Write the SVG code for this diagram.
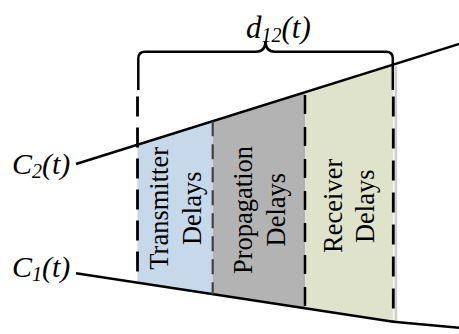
<svg xmlns="http://www.w3.org/2000/svg" width="459" height="334" viewBox="0 0 459 334">
<style>
.lbl{font-family:"Liberation Serif","Times New Roman",serif;font-style:italic;font-size:30px;fill:#000}
.sub{font-size:20px}
.rt{font-family:"Liberation Serif","Times New Roman",serif;font-size:26.5px;fill:#000;text-anchor:middle}
.ln{stroke:#000;stroke-width:2.5;fill:none}
.dash{stroke:#000;stroke-width:2.8;fill:none;stroke-dasharray:20 11}
</style>
<rect width="459" height="334" fill="#fff"/>
<g id="transmitter">
<polygon points="137.5,144.7 212.7,121.2 212.7,294.2 137.5,282.7" fill="#c6d8ea"/>
<text class="rt" transform="translate(167.5,208.3) rotate(-90)">Transmitter</text>
<text class="rt" transform="translate(201,208.3) rotate(-90)">Delays</text>
</g>
<g id="propagation">
<polygon points="212.7,121.2 305,92.3 305,308.2 212.7,294.2" fill="#b3b3b3"/>
<text class="rt" transform="translate(251.5,210) rotate(-90)">Propagation</text>
<text class="rt" transform="translate(285,209.7) rotate(-90)">Delays</text>
</g>
<g id="receiver">
<polygon points="305,92.3 393.3,64.6 393.3,321.7 305,308.2" fill="#dfe3cc"/>
<rect x="394.6" y="66" width="2.6" height="256" fill="#cdcdcd"/>
<text class="rt" transform="translate(341.7,205.8) rotate(-90)">Receiver</text>
<text class="rt" transform="translate(374.3,206.3) rotate(-90)">Delays</text>
</g>
<g id="c2">
<text class="lbl" x="12" y="173.5">C<tspan class="sub" dy="4">2</tspan><tspan dy="-4">(t)</tspan></text>
</g>
<g id="c1">
<text class="lbl" x="12" y="277">C<tspan class="sub" dy="4">1</tspan><tspan dy="-4">(t)</tspan></text>
</g>
<g id="d12">
<text class="lbl" x="246" y="38" style="font-size:31px">d<tspan class="sub" dy="4">12</tspan><tspan dy="-4">(t)</tspan></text>
<path class="ln" d="M138.3,90 V58.5 Q138.3,51.7 145,51.7 H256 C262,51.7 265.5,49 265.5,41 C265.5,49 269,51.7 275,51.7 H386 Q392.8,51.7 392.8,58.5 V90"/>
</g>
<g id="connectors">
<line class="ln" x1="76" y1="164" x2="462" y2="43"/>
<polyline class="ln" points="76,273.3 393.3,321.7 462,328"/>
<line class="dash" x1="137.5" y1="96.5" x2="137.5" y2="283"/>
<line x1="212.7" y1="121.2" x2="212.7" y2="294.2" stroke="#404040" stroke-width="2.2" stroke-dasharray="15 8"/>
<line x1="305" y1="95" x2="305" y2="308.4" stroke="#000" stroke-width="2.5" stroke-dasharray="19 13"/>
<line class="dash" x1="393.3" y1="96.5" x2="393.3" y2="322" style="stroke-dasharray:20 12"/>
</g>
</svg>
